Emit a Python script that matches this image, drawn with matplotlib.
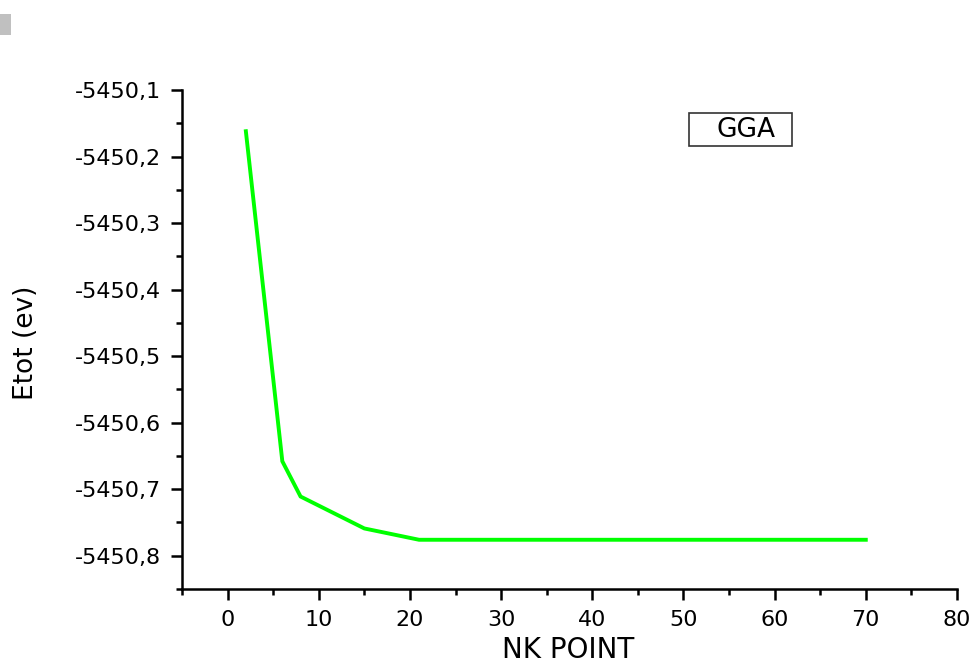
import matplotlib.pyplot as plt
from matplotlib.patches import Rectangle
from matplotlib.ticker import FuncFormatter, MultipleLocator

nk_points = [2, 6, 8, 15, 21, 70]
etot = [-5450.162, -5450.658, -5450.711, -5450.759, -5450.776, -5450.776]
series_name = "GGA"

plt.rcParams["font.family"] = ["DejaVu Sans"]

fig = plt.figure(figsize=(9.74, 6.66), dpi=100)
ax = fig.add_axes([0.1869, 0.1156, 0.7956, 0.7493])

ax.plot(nk_points, etot, color="#00ff00", lw=2.8, solid_joinstyle="miter")

ax.set_xlim(-5, 80)
ax.set_ylim(-5450.85, -5450.1)
ax.xaxis.set_major_locator(MultipleLocator(10))
ax.xaxis.set_minor_locator(MultipleLocator(5))
ax.yaxis.set_major_locator(MultipleLocator(0.1))
ax.yaxis.set_minor_locator(MultipleLocator(0.05))
ax.yaxis.set_major_formatter(FuncFormatter(lambda v, _: f"{v:.1f}".replace(".", ",")))

for side in ("top", "right"):
    ax.spines[side].set_visible(False)
for side in ("left", "bottom"):
    ax.spines[side].set_linewidth(1.8)
ax.tick_params(which="major", direction="out", length=8, width=1.8, labelsize=16, pad=7)
ax.tick_params(which="minor", direction="out", length=4.5, width=1.8)

fig.text(0.027, 0.485, "Etot (ev)", rotation=90, fontsize=19, ha="center", va="center")
fig.text(0.583, 0.003, "NK POINT", fontsize=20, ha="center", va="bottom")

# boxed series label
fig.add_artist(Rectangle((689 / 974, 1 - 146 / 666), 103 / 974, 33 / 666,
                         transform=fig.transFigure, fill=False,
                         edgecolor="#333333", lw=1.2))
fig.text(746 / 974, 1 - 130 / 666, series_name, fontsize=19, ha="center", va="center")

fig.add_artist(Rectangle((0, 1 - 35 / 666), 11 / 974, 21 / 666,
                         transform=fig.transFigure, color="#c0c0c0", lw=0))

fig.savefig("out.png", dpi=100)
